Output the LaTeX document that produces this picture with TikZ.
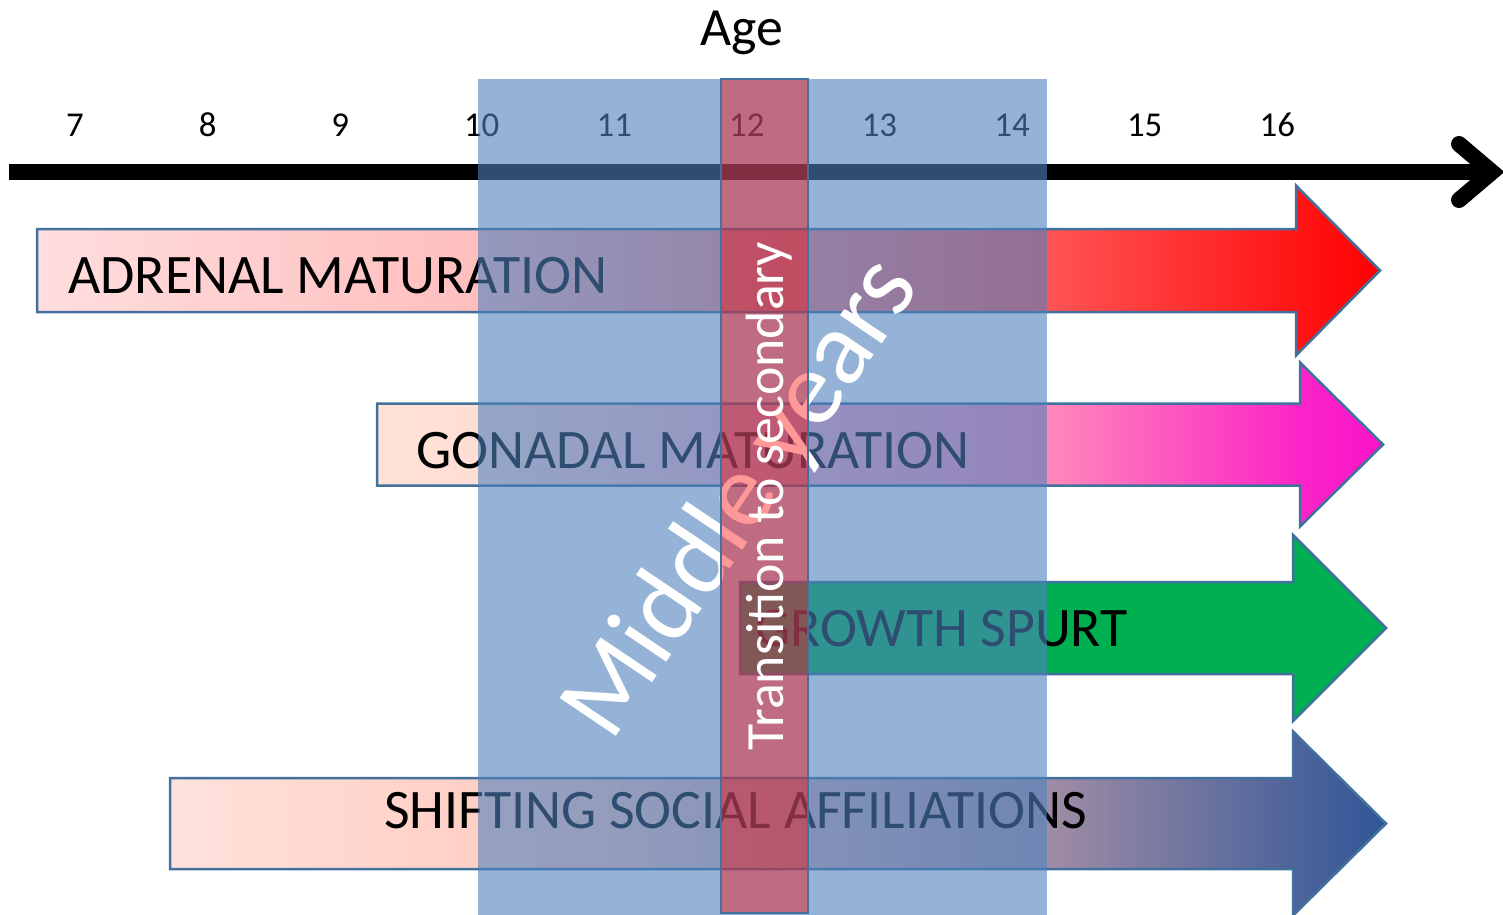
\documentclass[tikz,border=0pt]{standalone}
\usepackage{fontspec}
\setmainfont{Carlito}
\usepackage{tikz}
\usetikzlibrary{calc}
\definecolor{bandblue}{RGB}{79,129,189}
\definecolor{barline}{RGB}{65,113,156}
\definecolor{spurtgreen}{RGB}{0,176,80}
\definecolor{adrenalA}{RGB}{255,222,222}
\definecolor{adrenalB}{RGB}{255,190,190}
\definecolor{adrenalC}{RGB}{255,85,85}
\definecolor{adrenalD}{RGB}{255,0,0}
\definecolor{gonadA}{RGB}{255,225,215}
\definecolor{gonadB}{RGB}{255,222,213}
\definecolor{gonadC}{RGB}{255,135,185}
\definecolor{gonadD}{RGB}{250,35,200}
\definecolor{gonadE}{RGB}{250,20,200}
\definecolor{socialA}{RGB}{255,226,220}
\definecolor{socialB}{RGB}{255,200,188}
\definecolor{socialC}{RGB}{160,140,165}
\definecolor{socialD}{RGB}{47,85,151}
% the path box runs from 25bp to 75bp
\pgfdeclarehorizontalshading{adrenalshade}{100bp}{color(0bp)=(adrenalA); color(25bp)=(adrenalA);
  color(41.5bp)=(adrenalB); color(62.5bp)=(adrenalC); color(75bp)=(adrenalD); color(100bp)=(adrenalD)}
\pgfdeclarehorizontalshading{gonadshade}{100bp}{color(0bp)=(gonadA); color(25bp)=(gonadA);
  color(30bp)=(gonadB); color(58.5bp)=(gonadC); color(71bp)=(gonadD); color(75bp)=(gonadE); color(100bp)=(gonadE)}
\pgfdeclarehorizontalshading{socialshade}{100bp}{color(0bp)=(socialA); color(25bp)=(socialA);
  color(42.5bp)=(socialB); color(61bp)=(socialC); color(75bp)=(socialD); color(100bp)=(socialD)}
% #1 look, #2 left, #3 end of body, #4 tip, #5 middle, #6 half body, #7 half head
\newcommand{\agearrow}[7]{%
  \draw[#1] (#2,#5-#6) -- (#3,#5-#6) -- (#3,#5-#7) -- (#4,#5)
    -- (#3,#5+#7) -- (#3,#5+#6) -- (#2,#5+#6) -- cycle;}

\begin{document}
\begin{tikzpicture}[x=1bp, y=-1bp,
    axisline/.style={line width=16bp, black},
    agelabel/.style={anchor=base west, inner sep=0pt, font=\fontsize{35}{40}\selectfont},
    bartext/.style={anchor=base west, inner sep=0pt, font=\fontsize{56}{60}\selectfont},
    barshape/.style={draw=barline, line width=2.5bp}]
  \useasboundingbox (0,0) rectangle (1503,914);

  % age axis
  \node[anchor=base, inner sep=0pt, font=\fontsize{54}{60}\selectfont] (agetitle) at (742,45) {Age};
  \foreach \a in {7,...,16}
    \node[agelabel] (age\a) at ({66+132.6*(\a-7)},136) {\a};
  \coordinate (axisstart) at (9,172);
  \coordinate (axisend) at (1492,172);
  \draw[axisline] (axisstart) -- (axisend);
  \draw[axisline, line cap=round, line join=miter] (1459,144) -- (axisend) -- (1459,200);

  % the four processes
  \agearrow{barshape, shading=adrenalshade}{37}{1296}{1380}{270.5}{41.5}{85}
  \agearrow{barshape, shading=gonadshade}{377}{1300}{1383}{444.5}{41}{82}
  \agearrow{barshape, fill=spurtgreen}{740}{1293}{1386}{628}{46}{93}
  \agearrow{barshape, shading=socialshade}{170}{1293}{1386}{823.5}{45.5}{92}

  \node[bartext] (adrenal) at (68,293) {ADRENAL MATURATION};
  \node[bartext] (gonadal) at (416,468) {GONADAL MATURATION};
  \node[bartext] (growth) at (755,646) {GROWTH SPURT};
  \node[bartext] (social) at (384,828) {SHIFTING SOCIAL AFFILIATIONS};

  % middle years and the move to secondary school
  \fill[bandblue, fill opacity=0.6] (478,79) rectangle (1047,916);
  \node[rotate=56, text=white, inner sep=0pt, font=\fontsize{106}{110}\selectfont] (middle) at (743,499) {Middle years};
  \draw[barline, line width=2.5bp, fill=red, fill opacity=0.4] (721,79) rectangle (808,913);
  \node[rotate=90, anchor=base, text=white, inner sep=0pt, font=\fontsize{54}{60}\selectfont] (transition) at (783,496) {Transition to secondary};
\end{tikzpicture}
\end{document}
